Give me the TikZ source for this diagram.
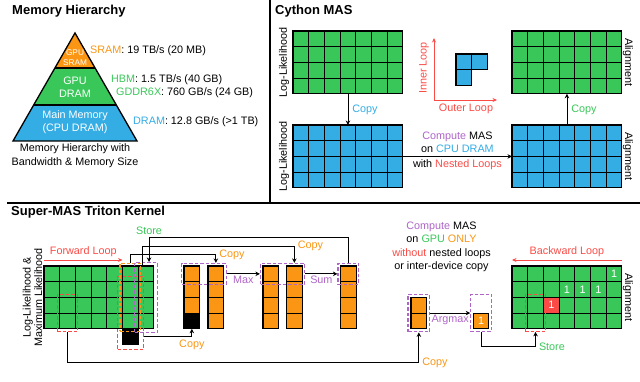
\documentclass[tikz,border=0pt]{standalone}
\usepackage{fontspec}
\setmainfont{Liberation Sans}
\usepackage{tikz}
\usetikzlibrary{arrows.meta, positioning, fit, calc}
\definecolor{mgreen}{RGB}{58,199,90}
\definecolor{mblue}{RGB}{52,172,228}
\definecolor{morange}{RGB}{250,150,20}
\definecolor{mred}{RGB}{250,75,70}
\definecolor{mpurple}{RGB}{175,100,200}

\begin{document}
\begin{tikzpicture}[
  x=1pt, y=-1pt,
  font=\fontsize{10.8}{13}\selectfont,
  inner sep=1pt,
  cell/.style={draw, line width=1.1pt, minimum size=15.7pt, inner sep=0pt, outer sep=0pt},
  dbox/.style={draw=#1, dash pattern=on 3.5pt off 2pt, line width=1.15pt, inner sep=2.5pt},
  arr/.style={-{Stealth[length=4.5pt, width=4.5pt]}, line width=0.9pt},
  loop/.style={-{Stealth[length=4.5pt, width=4pt]}, line width=0.8pt, mred},
  title/.style={font=\fontsize{13}{15}\selectfont\bfseries, anchor=west}
]
\useasboundingbox (0,0) rectangle (640,382);

\draw[line width=1.3pt] (270,0) -- (270,203);
\draw[line width=1.3pt] (7,203) -- (640,203);

\node[title] (tmem) at (11,11) {Memory Hierarchy};
\node[title] (tcy) at (274,11) {Cython MAS};
\node[title] (tsm) at (10,212) {Super-MAS Triton Kernel};

\coordinate (apex) at (75,33);
\coordinate (bl) at (13,141);
\coordinate (br) at (137,141);
\coordinate (sl) at ($(apex)!0.324!(bl)$);
\coordinate (sr) at ($(apex)!0.324!(br)$);
\coordinate (dl) at ($(apex)!0.667!(bl)$);
\coordinate (dr) at ($(apex)!0.667!(br)$);
\fill[morange] (apex) -- (sr) -- (sl) -- cycle;
\fill[mgreen] (sl) -- (sr) -- (dr) -- (dl) -- cycle;
\fill[mblue] (dl) -- (dr) -- (br) -- (bl) -- cycle;
\draw[line width=1.1pt] (sl) -- (sr) (dl) -- (dr);
\draw[line width=1.3pt] (apex) -- (br) -- (bl) -- cycle;

\node[text=white, font=\fontsize{8.3}{10}\selectfont, align=center] (sramtxt) at (75,58) {GPU\\SRAM};
\node[text=white, align=center] (gdtxt) at (75,87.5) {GPU\\DRAM};
\node[text=white, align=center] (mmtxt) at (75,122.5) {Main Memory\\(CPU DRAM)};
\node[align=center, font=\fontsize{10.8}{14}\selectfont] (cap) at (75,156) {Memory Hierarchy with\\Bandwidth \& Memory Size};

\node[anchor=west] (sram) at (89,51) {\textcolor{morange}{SRAM}: 19 TB/s (20 MB)};
\node[anchor=west] (hbm) at (110,80) {\textcolor{mgreen}{HBM}: 1.5 TB/s (40 GB)};
\node[anchor=west] (gddr) at (115,93) {\textcolor{mgreen}{GDDR6X}: 760 GB/s (24 GB)};
\node[anchor=west] (dram) at (132,122) {\textcolor{mblue}{DRAM}: 12.8 GB/s (>1 TB)};

\foreach \g/\gx/\gy/\gc in {ll/293/31/mgreen, llcpu/293/125/mblue, al/512/31/mgreen, alcpu/512/125/mblue, fwd/44/266/mgreen, bwd/512/266/mgreen}
  \foreach \i in {0,...,6}
    \foreach \j in {0,...,3}
      \node[cell, fill=\gc] (\g-\i-\j) at ({\gx+(\i+0.5)*15.7}, {\gy+(\j+0.5)*15.7}) {};

\node[rotate=90] (lllab) at ([xshift=-9pt]ll-0-1.south west) {Log-Likelihood};
\node[rotate=90] (llcpulab) at ([xshift=-9pt]llcpu-0-1.south west) {Log-Likelihood};
\node[rotate=-90] (allab) at ([xshift=6pt]al-6-1.south east) {Alignment};
\node[rotate=-90] (alcpulab) at ([xshift=6pt]alcpu-6-1.south east) {Alignment};
\node[rotate=-90] (bwdlab) at ([xshift=6pt]bwd-6-1.south east) {Alignment};
\node[rotate=90, align=center, font=\fontsize{10.8}{11.5}\selectfont] (fwdlab) at (32.5,297.4) {Log-Likelihood \&\\Maximum Likelihood};

\draw[arr] (ll-3-3.south) -- node[right=3pt, text=mblue] (cpy1) {Copy} (llcpu-3-0.north);
\draw[arr] (alcpu-3-0.north) -- node[right=3pt, text=mgreen] (cpy2) {Copy} (al-3-3.south);
\draw[arr] (llcpu-6-1.south east) -- node[above=2pt, align=center] (cmp) {\textcolor{mpurple}{Compute} MAS\\on \textcolor{mblue}{CPU DRAM}} node[below=2pt] (nst) {with \textcolor{mred}{Nested Loops}} (alcpu-0-1.south west);

\coordinate (org) at (434,100);
\coordinate (iy) at (434,38);
\coordinate (ox) at (497,100);
\draw[loop] (org) -- (iy);
\draw[loop] (org) -- (ox);
\node[rotate=90, text=mred] (inl) at (424,68) {Inner Loop};
\node[text=mred] (oul) at (466,109) {Outer Loop};

\node[cell, fill=mblue] (lb-0) at (463.85,61.85) {};
\node[cell, fill=mblue, right=0pt of lb-0] (lb-1) {};
\node[cell, fill=mblue, below=0pt of lb-0] (lb-2) {};

\node[cell, fill=black, below=0pt of fwd-5-3] (blk) {};

\foreach \o/\ox in {oa/184, ob/208, oc/263, od/286.5, oe/340.5}
  \foreach \j in {0,...,3}
    \node[cell, fill=morange] (\o-\j) at ({\ox+7.85}, {266+(\j+0.5)*15.7}) {};
\node[cell, fill=black] (oablk) at (oa-3) {};

\foreach \j in {0,1}
  \node[cell, fill=morange] (ag-\j) at (418.85, {297.4+(\j+0.5)*15.7}) {};
\node[cell, fill=morange, text=white] (res) at (481,320.95) {1};

\foreach \c in {6-0,3-1,4-1,5-1}
  \node[text=white] (one-\c) at (bwd-\c) {1};
\node[cell, fill=mred, text=white] (hit) at (bwd-2-2) {1};

\node[dbox=mred, fit=(fwd-1-2)(fwd-1-3)] (fred) {};
\node[dbox=mred, inner sep=5pt, fit=(fwd-5-1)(blk)] (fredcol) {};
\node[dbox=morange, fit=(fwd-5-0)(fwd-5-3)] (fob) {};
\node[dbox=mpurple, inner sep=3.5pt, fit=(fwd-6-0)(fwd-6-3)] (fst) {};
\node[dbox=mpurple, fit=(oa-0)(ob-0)] (abbox) {};
\node[dbox=mpurple, fit=(oc-0)(od-0)] (cdbox) {};
\node[dbox=mpurple, fit=(oe-0)] (ebox) {};
\node[dbox=mpurple, inner sep=3pt, fit=(ag-0)(ag-1)] (agbox) {};
\node[dbox=mpurple, minimum width=21pt, minimum height=37pt] (resbox) at (481.3,312.6) {};
\node[dbox=mred, fit=(bwd-1-2)(bwd-1-3)] (bred) {};

\draw[loop] ([yshift=6pt]fwd-0-0.north west) -- node[above=2pt] (fwl) {Forward Loop} ([yshift=6pt]fwd-5-0.north west);
\draw[loop] ([yshift=6pt]bwd-6-0.north east) -- node[above=2pt] (bwl) {Backward Loop} ([yshift=6pt]bwd-0-0.north west);

\draw[arr] (ebox.north) -- ++(0,-25) -| node[pos=0.5, above=2pt, text=mgreen] (stl) {Store} ([xshift=3pt]fst.north);
\draw[arr] ([xshift=4pt]fwd-6-0.north west) -- ++(0,-20) -| node[pos=0.5, right=2pt, text=morange] (cpy4) {Copy} (od-0 |- cdbox.north);
\draw[arr] (fob.north) -- ++(0,-8) -| node[pos=0.5, right=2pt, text=morange] (cpy3) {Copy} (ob-0 |- abbox.north);
\draw[arr] (fredcol.east |- blk) -| node[pos=0.5, below=2pt, text=morange] (cpy5) {Copy} (oa-3.south);
\draw[arr] (fred.south) -- ++(0,31) -| node[pos=0.5, right=2pt, text=morange] (cpy6) {Copy} (agbox.south);

\draw[arr] (abbox.east) -- node[below=1pt, text=mpurple] (mx) {Max} (cdbox.west);
\draw[arr] (cdbox.east) -- node[below=1pt, text=mpurple] (sm) {Sum} (ebox.west);
\draw[arr] (agbox.east |- ag-0.south) -- node[below=1pt, text=mpurple] (amx) {Argmax} (resbox.west |- ag-0.south);
\draw[arr] (resbox.south) -- ++(0,15) -| node[pos=0.5, right=2pt, text=mgreen] (st2) {Store} (bred.south);

\node[align=center, font=\fontsize{10.8}{13.4}\selectfont] (gpu) at (441.5,247) {\textcolor{mpurple}{Compute} MAS\\on \textcolor{mgreen}{GPU} \textcolor{morange}{ONLY}\\\textcolor{mred}{without} nested loops\\or inter-device copy};

\end{tikzpicture}
\end{document}
